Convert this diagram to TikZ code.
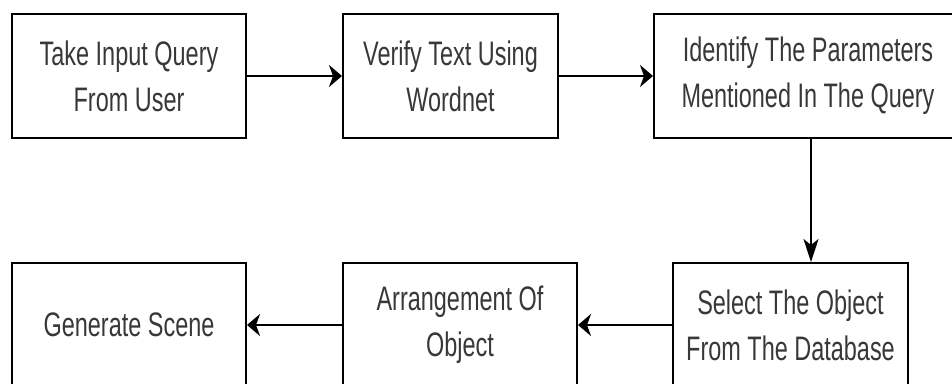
\documentclass[tikz,border=0pt]{standalone}
\usepackage{fontspec}
\setmainfont{Liberation Sans}[FakeStretch=0.69]
\usetikzlibrary{arrows.meta}
\definecolor{txt}{gray}{0.22}
\begin{document}
\begin{tikzpicture}[x=1pt,y=-1pt,
  stepbox/.style={draw=black,line width=2pt,inner sep=0pt,minimum height=124pt,
    align=center,text=txt,font=\fontsize{34}{46}\selectfont},
  harrow/.style={line width=2pt,-{Stealth[length=13pt,width=22pt,inset=4pt]}},
  varrow/.style={line width=2pt,-{Stealth[length=23pt,width=15pt,inset=6pt]}}]
\useasboundingbox (0,0) rectangle (952,383);
\clip (0,0) rectangle (952,383);
\node[stepbox,minimum width=234pt] (a) at (129,76) {Take Input Query\\From User};
\node[stepbox,minimum width=215pt] (b) at (450.5,76) {Verify Text Using\\Wordnet};
\node[stepbox,minimum width=308pt] (c) at (808,76) {Identify The Parameters\\Mentioned In The Query};
\node[stepbox,minimum width=235pt] (d) at (790.5,325) {Select The Object\\From The Database};
\node[stepbox,minimum width=234pt] (e) at (460,325) {Arrangement Of\\Object};
\node[stepbox,minimum width=234pt] (f) at (129,325) {Generate Scene};
\draw[harrow] (a.east) -- (b.west);
\draw[harrow] (b.east) -- (c.west);
\draw[varrow] (c.south -| 811,0) -- (d.north -| 811,0);
\draw[harrow] (d.west) -- (e.east);
\draw[harrow] (e.west) -- (f.east);
\end{tikzpicture}
\end{document}
